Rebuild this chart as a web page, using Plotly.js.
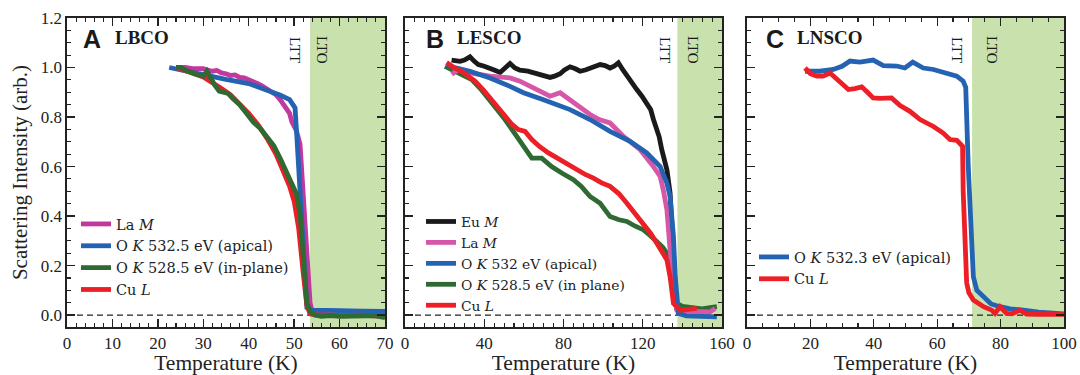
<!DOCTYPE html>
<html>
<head>
<meta charset="utf-8">
<script src="https://cdn.plot.ly/plotly-3.0.1.min.js"></script>
<style>html,body{margin:0;padding:0;background:#fff;}#chart{width:1080px;height:375px;}</style>
</head>
<body>
<div id="chart"></div>
<script>
// ---------- Panel A: LBCO ----------
const tA_La = [24, 26, 28, 30, 31, 32, 33, 34, 35, 36, 37, 38, 39, 40, 41, 42, 43, 44, 45, 46, 47, 48, 49, 49.5, 50.5, 51.3, 52, 52.8, 53.5, 54, 56, 58, 60, 62, 64, 66, 68, 70];
const iA_La = [1.0, 1.0, 0.995, 0.995, 0.99, 0.985, 0.988, 0.978, 0.975, 0.968, 0.97, 0.96, 0.958, 0.951, 0.945, 0.935, 0.925, 0.915, 0.905, 0.89, 0.868, 0.845, 0.815, 0.78, 0.745, 0.69, 0.5, 0.25, 0.05, 0.01, 0.003, 0.0, 0.0, 0.002, 0.0, 0.0, 0.002, 0.0];
const tA_OA = [22.5, 25, 30, 35, 40, 42.5, 45, 47, 49, 50.2, 50.6, 51, 51.3, 51.8, 52.3, 52.8, 54, 56, 60, 65, 70];
const iA_OA = [1.0, 0.99, 0.972, 0.952, 0.935, 0.918, 0.905, 0.888, 0.87, 0.837, 0.72, 0.58, 0.5, 0.3, 0.12, 0.03, 0.02, 0.018, 0.018, 0.016, 0.015];
const tA_OP = [24, 25, 26, 27, 28, 29, 30, 30.8, 31.5, 32.5, 33.5, 34.5, 35.5, 36.5, 38, 39.5, 41, 42.5, 44, 45.5, 47, 48.5, 49.5, 50.5, 51.3, 52, 52.8, 53.5, 54.5, 56, 58, 60, 62, 64, 66, 68, 70];
const iA_OP = [1.0, 1.0, 0.99, 0.98, 0.975, 0.97, 0.965, 0.985, 0.96, 0.93, 0.905, 0.9, 0.895, 0.875, 0.85, 0.815, 0.78, 0.755, 0.72, 0.685, 0.63, 0.57, 0.53, 0.49, 0.41, 0.21, 0.05, 0.015, 0.0, -0.005, -0.002, -0.005, -0.003, -0.005, -0.003, -0.003, -0.01];
const tA_Cu = [24, 26, 28, 30, 32, 34, 36, 38, 40, 42, 44, 46, 47, 48, 49, 50, 51, 52, 52.8, 53.5, 55, 58, 61, 64, 67, 70];
const iA_Cu = [1.0, 0.985, 0.975, 0.962, 0.94, 0.915, 0.89, 0.855, 0.815, 0.77, 0.715, 0.65, 0.61, 0.565, 0.52, 0.46, 0.35, 0.17, 0.04, 0.005, 0.0, 0.0, -0.003, 0.0, -0.003, -0.005];

// ---------- Panel B: LESCO ----------
const tB_Eu = [23.5, 27.8, 30, 32.8, 35, 37, 40, 42.9, 45, 48, 50.5, 53, 55.5, 58, 62, 66.5, 70, 73.2, 75.5, 78.3, 80.5, 83.3, 86, 88.4, 91, 93.4, 96, 98.5, 101, 103.5, 105.5, 107.7, 110, 112, 114.5, 117, 119.5, 122, 124, 125.4, 127.1, 128.3, 129.6, 131, 132.2, 133.8, 135, 136, 137, 139, 141];
const iB_Eu = [1.03, 1.025, 1.03, 1.043, 1.025, 1.012, 1.005, 0.998, 0.99, 0.98, 0.998, 1.016, 0.998, 0.989, 0.985, 0.975, 0.97, 0.96, 0.965, 0.975, 0.99, 1.003, 0.995, 0.985, 0.99, 0.998, 1.005, 1.012, 1.008, 0.998, 1.005, 1.019, 0.99, 0.966, 0.94, 0.911, 0.885, 0.857, 0.83, 0.79, 0.749, 0.72, 0.668, 0.63, 0.587, 0.493, 0.3, 0.1, 0.03, 0.03, 0.03];
const tB_La = [23.6, 26.9, 30, 35, 42.9, 48, 53, 58, 63.1, 68, 73.2, 78.3, 83.3, 88, 93.4, 98, 103.5, 110.3, 118.7, 125.4, 128.8, 130.5, 132.2, 133.8, 135.5, 137.2, 140, 145, 150, 154, 156.5];
const iB_La = [0.972, 0.992, 0.985, 0.975, 0.965, 0.962, 0.958, 0.945, 0.924, 0.905, 0.884, 0.898, 0.87, 0.84, 0.81, 0.79, 0.776, 0.722, 0.668, 0.6, 0.56, 0.5, 0.425, 0.263, 0.101, 0.02, 0.015, 0.015, 0.013, 0.013, 0.027];
const tB_OA = [21, 25, 32.8, 42.9, 53, 59.8, 69.9, 83.3, 93.4, 103.5, 113.6, 122, 128.8, 132.2, 133.8, 135.5, 136.4, 138, 142, 150, 157.4];
const iB_OA = [1.012, 1.0, 0.985, 0.958, 0.924, 0.898, 0.87, 0.83, 0.79, 0.742, 0.702, 0.655, 0.6, 0.533, 0.479, 0.317, 0.155, 0.007, -0.003, -0.005, -0.007];
const tB_OP = [20.2, 25, 30, 33.7, 38, 42.1, 46, 50.5, 54, 57.2, 60.5, 64, 69, 74, 79.1, 85, 89, 93.4, 98.5, 103.5, 108, 112, 116, 120.4, 124, 127.1, 130, 132.2, 134.7, 136, 137.2, 140, 145, 150, 154, 157.4];
const iB_OP = [1.005, 0.985, 0.968, 0.951, 0.915, 0.87, 0.835, 0.79, 0.75, 0.709, 0.67, 0.634, 0.634, 0.6, 0.574, 0.547, 0.52, 0.479, 0.452, 0.398, 0.385, 0.378, 0.36, 0.344, 0.32, 0.297, 0.275, 0.25, 0.21, 0.12, 0.047, 0.035, 0.03, 0.025, 0.03, 0.034];
const tB_Cu = [21, 24.5, 28.6, 32, 35.3, 39.5, 43.8, 47, 50.5, 54, 57.2, 59, 60.6, 64, 68, 72.4, 76.5, 80.8, 86.7, 91, 95.1, 99, 103.5, 108, 112, 116, 120.4, 124, 127.1, 130, 132.2, 133.8, 135.5, 138.9, 143, 147.3];
const iB_Cu = [1.02, 1.0, 0.985, 0.965, 0.945, 0.91, 0.87, 0.84, 0.803, 0.77, 0.749, 0.745, 0.742, 0.709, 0.68, 0.655, 0.635, 0.614, 0.587, 0.568, 0.553, 0.535, 0.52, 0.49, 0.452, 0.41, 0.371, 0.33, 0.29, 0.25, 0.223, 0.155, 0.047, 0.02, 0.025, 0.027];

// ---------- Panel C: LNSCO ----------
const tC_OA = [18.3, 23, 27.2, 30, 32.5, 35.6, 39.8, 41.5, 43, 47.2, 49.8, 52.3, 55.6, 58.8, 63, 66.2, 68.2, 69, 69.8, 70.5, 71.4, 72.5, 74.6, 77, 79.8, 83, 87.2, 92, 100];
const iC_OA = [0.985, 0.985, 0.992, 1.005, 1.026, 1.022, 1.03, 1.02, 1.008, 1.006, 0.998, 1.022, 0.998, 0.992, 0.978, 0.965, 0.945, 0.92, 0.6, 0.35, 0.155, 0.1, 0.074, 0.045, 0.034, 0.025, 0.02, 0.012, 0.005];
const tC_Cu = [18.3, 20, 22, 24, 26.2, 29, 32, 34, 36.2, 38, 39.8, 42, 45.6, 48.3, 51.4, 54.6, 58.8, 61.9, 64, 66.2, 68, 68.2, 68.8, 69.3, 70, 71.4, 74.6, 77.2, 78.2, 79.8, 81.9, 83.5, 86.1, 88.2, 92, 96, 100];
const iC_Cu = [0.998, 0.975, 0.965, 0.965, 0.978, 0.945, 0.911, 0.915, 0.922, 0.9, 0.877, 0.875, 0.877, 0.846, 0.823, 0.79, 0.762, 0.735, 0.709, 0.706, 0.682, 0.5, 0.2, 0.13, 0.09, 0.061, 0.034, 0.02, 0.007, 0.034, 0.007, 0.005, 0.02, 0.004, 0.003, 0.003, 0.003];

// ---------- labels / ranges ----------
const panelLetters = ["A", "B", "C"];
const panelNames = ["LBCO", "LESCO", "LNSCO"];
const xMax = [70, 160, 100];
const ltoStart = [53.5, 137.5, 71];
const legendA = ["La <i>M</i>", "O <i>K</i> 532.5 eV (apical)", "O <i>K</i> 528.5 eV (in-plane)", "Cu <i>L</i>"];
const legendB = ["Eu <i>M</i>", "La <i>M</i>", "O <i>K</i> 532 eV (apical)", "O <i>K</i> 528.5 eV (in plane)", "Cu <i>L</i>"];
const legendC = ["O <i>K</i> 532.3 eV (apical)", "Cu <i>L</i>"];
const xTitle = "Temperature (K)";
const yTitle = "Scattering Intensity (arb.)";

const C = {mag: "#c1389f", magB: "#d657a8", blue: "#2463b2", green: "#2f6a32", red: "#ec1f27", black: "#1a1a1a"};
const LW = 4.8;
const serif = "Liberation Serif, Times New Roman, serif";
const wideSerif = "DejaVu Serif, Liberation Serif, serif";

function tr(x, y, name, color, xa, ya, leg, rank) {
  return {x: x, y: y, name: name, type: "scatter", mode: "lines",
    line: {color: color, width: LW}, xaxis: xa, yaxis: ya, legend: leg, legendrank: rank};
}

const data = [
  tr(tA_La, iA_La, legendA[0], C.mag, "x", "y", "legend", 1),
  tr(tA_OA, iA_OA, legendA[1], C.blue, "x", "y", "legend", 2),
  tr(tA_Cu, iA_Cu, legendA[3], C.red, "x", "y", "legend", 4),
  tr(tA_OP, iA_OP, legendA[2], C.green, "x", "y", "legend", 3),

  tr(tB_Eu, iB_Eu, legendB[0], C.black, "x2", "y2", "legend2", 1),
  tr(tB_OP, iB_OP, legendB[3], C.green, "x2", "y2", "legend2", 4),
  tr(tB_La, iB_La, legendB[1], C.magB, "x2", "y2", "legend2", 2),
  tr(tB_OA, iB_OA, legendB[2], C.blue, "x2", "y2", "legend2", 3),
  tr(tB_Cu, iB_Cu, legendB[4], C.red, "x2", "y2", "legend2", 5),

  tr(tC_OA, iC_OA, legendC[0], C.blue, "x3", "y3", "legend3", 1),
  tr(tC_Cu, iC_Cu, legendC[1], C.red, "x3", "y3", "legend3", 2)
];

const W = 1080, H = 375;
const px = v => v / W, py = v => 1 - v / H;
const xDom = [[67, 385], [405, 722], [747, 1064]];
const yDom = [py(327), py(18)];
const minorX = [2, 5, 5];
const dtickX = [10, 40, 20];

function xaxis(i) {
  return {
    domain: [px(xDom[i][0]), px(xDom[i][1])], range: [0, xMax[i]], anchor: i === 0 ? "y" : "y" + (i + 1),
    dtick: dtickX[i], tick0: 0, ticks: "inside", ticklen: 8, tickwidth: 1.3, tickcolor: "#222",
    minor: {dtick: minorX[i], ticks: "inside", ticklen: 4, tickwidth: 1.1, tickcolor: "#222"},
    showline: true, linecolor: "#222", linewidth: 1.6, mirror: "allticks", showgrid: false, zeroline: false,
    tickfont: {family: serif, size: 17, color: "#222"},
    title: {text: xTitle, font: {family: serif, size: 21.5, color: "#222"}, standoff: 5}
  };
}
function yaxis(i) {
  return {
    domain: yDom, range: [-0.048, 1.2], anchor: i === 0 ? "x" : "x" + (i + 1),
    dtick: 0.2, tick0: 0, ticks: "inside", ticklen: 8, tickwidth: 1.3, tickcolor: "#222",
    minor: {dtick: 0.05, ticks: "inside", ticklen: 4, tickwidth: 1.1, tickcolor: "#222"},
    showline: true, linecolor: "#222", linewidth: 1.6, mirror: "allticks", showgrid: false, zeroline: false,
    showticklabels: i === 0, tickformat: ".1f",
    tickfont: {family: serif, size: 17, color: "#222"},
    title: i === 0 ? {text: yTitle, font: {family: serif, size: 21, color: "#222"}, standoff: 7} : {text: ""}
  };
}

const shapes = [];
const annotations = [];
const letterX = [92, 434.5, 774.5], nameX = [113, 455, 795];
const lttX = [295, 665, 957], ltoX = [322, 693, 992];
for (let i = 0; i < 3; i++) {
  const xs = i === 0 ? "x" : "x" + (i + 1), ys = i === 0 ? "y" : "y" + (i + 1);
  shapes.push({type: "rect", xref: xs, yref: ys + " domain", x0: ltoStart[i], x1: xMax[i], y0: 0, y1: 1,
    fillcolor: "#c9e1ad", line: {width: 0}, layer: "below"});
  shapes.push({type: "line", xref: xs + " domain", yref: ys, x0: 0, x1: 1, y0: 0, y1: 0,
    line: {color: "#222", width: 1.2, dash: "6px,4px"}, layer: "below"});
  annotations.push({xref: "paper", yref: "paper", x: px(letterX[i]), y: py(39), text: "<b>" + panelLetters[i] + "</b>",
    showarrow: false, font: {family: "Liberation Sans Narrow, Liberation Sans, Arial, sans-serif", size: 25, color: "#1a1a1a"}, xanchor: "center", yanchor: "middle"});
  annotations.push({xref: "paper", yref: "paper", x: px(nameX[i]), y: py(37), text: "<b>" + panelNames[i] + "</b>",
    showarrow: false, font: {family: serif, size: 19, color: "#1a1a1a"}, xanchor: "left", yanchor: "middle"});
  annotations.push({xref: "paper", yref: "paper", x: px(lttX[i]), y: py(50), text: "LTT", textangle: 90,
    showarrow: false, font: {family: serif, size: 15, color: "#1a1a1a"}, xanchor: "center", yanchor: "middle"});
  annotations.push({xref: "paper", yref: "paper", x: px(ltoX[i]), y: py(50), text: "LTO", textangle: 90,
    showarrow: false, font: {family: serif, size: 15, color: "#1a1a1a"}, xanchor: "center", yanchor: "middle"});
}

function legend(xp, yp, fs) {
  return {x: px(xp), y: py(yp), xanchor: "left", yanchor: "top", bgcolor: "rgba(0,0,0,0)", borderwidth: 0,
    font: {family: wideSerif, size: fs, color: "#222"}, tracegroupgap: 0, traceorder: "normal"};
}

const layout = {
  width: W, height: H, margin: {l: 0, r: 0, t: 0, b: 0},
  paper_bgcolor: "#fff", plot_bgcolor: "rgba(0,0,0,0)", showlegend: true,
  xaxis: xaxis(0), xaxis2: xaxis(1), xaxis3: xaxis(2),
  yaxis: yaxis(0), yaxis2: yaxis(1), yaxis3: yaxis(2),
  legend: legend(76, 208, 14.5), legend2: legend(421, 206, 13.8), legend3: legend(754, 241, 14.5),
  shapes: shapes, annotations: annotations
};

Plotly.newPlot("chart", data, layout, {staticPlot: true, displayModeBar: false});
</script>
</body>
</html>
